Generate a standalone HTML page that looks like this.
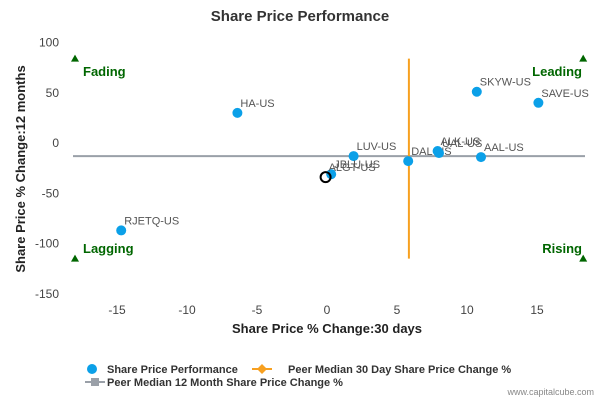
<!DOCTYPE html>
<html><head><meta charset="utf-8"><style>
body{margin:0;background:#fff;font-family:"Liberation Sans",sans-serif}
svg text{font-family:"Liberation Sans",sans-serif}
</style></head><body>
<svg width="600" height="400" viewBox="0 0 600 400">
<text x="300" y="21" text-anchor="middle" font-size="15" fill="#333" font-weight="bold">Share Price Performance</text>
<g id="grid"></g><g id="axes"></g><g id="marks"></g>
<text x="327" y="333" text-anchor="middle" font-size="13" font-weight="bold" fill="#222">Share Price % Change:30 days</text>
<text transform="translate(25,169) rotate(-90)" text-anchor="middle" font-size="13" font-weight="bold" fill="#222">Share Price % Change:12 months</text>
<text x="83" y="76" font-size="13" font-weight="bold" fill="#060">Fading</text>
<text x="582" y="76" text-anchor="end" font-size="13" font-weight="bold" fill="#060">Leading</text>
<text x="83" y="253" font-size="13" font-weight="bold" fill="#060">Lagging</text>
<text x="582" y="253" text-anchor="end" font-size="13" font-weight="bold" fill="#060">Rising</text>
<g font-size="11" font-weight="bold" fill="#333">
<circle cx="92" cy="369" r="5" fill="#0ba0e8"/>
<text x="107" y="373">Share Price Performance</text>
<line x1="252" y1="369" x2="272" y2="369" stroke="#f7a020" stroke-width="2"/>
<path d="M262 364 L267 369 L262 374 L257 369Z" fill="#f7a020"/>
<text x="288" y="373">Peer Median 30 Day Share Price Change %</text>
<line x1="85" y1="382" x2="105" y2="382" stroke="#9aa0a8" stroke-width="2"/>
<rect x="91" y="378" width="8" height="8" fill="#9aa0a8"/>
<text x="107" y="386">Peer Median 12 Month Share Price Change %</text>
</g>
<text x="594" y="395" text-anchor="end" font-size="9" fill="#888">www.capitalcube.com</text>
</svg>
<script>
const xTicks=[-15,-10,-5,0,5,10,15];
const yTicks=[100,50,0,-50,-100,-150];
const names=["HA-US","RJETQ-US","SKYW-US","SAVE-US","LUV-US","DAL-US","ALK-US","UAL-US","AAL-US","JBLU-US","ALGT-US"];
const xVals=[-6.4,-14.7,10.7,15.1,1.9,5.8,7.9,8.0,11.0,0.3,-0.1];
const yVals=[30,-87,51,40,-13,-18,-8,-10,-14,-31,-34];
const highlight="ALGT-US";
const medianX=5.85, medianY=-13;
const X=v=>327+v*14, Y=v=>143-v*1.005;
const ns="http://www.w3.org/2000/svg";
function mk(p,t,a){const e=document.createElementNS(ns,t);for(const k in a)e.setAttribute(k,a[k]);p.appendChild(e);return e;}
const axes=document.getElementById('axes'),marks=document.getElementById('marks');
xTicks.forEach(t=>{const e=mk(axes,'text',{x:X(t),y:314,'text-anchor':'middle','font-size':12,fill:'#444'});e.textContent=t;

});
yTicks.forEach(t=>{const e=mk(axes,'text',{x:59,y:Y(t)+4,'text-anchor':'end','font-size':12,fill:'#444'});e.textContent=t;

});
let l=mk(marks,'line',{x1:73,x2:585,y1:Y(medianY),y2:Y(medianY),stroke:'#9aa0a8','stroke-width':2});


l=mk(marks,'line',{x1:X(medianX),x2:X(medianX),y1:Y(84),y2:Y(-115),stroke:'#f7a020','stroke-width':2});


[[-18,84],[18.3,84],[-18,-115],[18.3,-115]].forEach(([a,b])=>{const x=X(a),y=Y(b);const p=mk(marks,'path',{d:`M${x} ${y-4} L${x+4} ${y+3} L${x-4} ${y+3}Z`,fill:'#060'});

});
names.forEach((n,i)=>{const x=X(xVals[i]),y=Y(yVals[i]);
if(n===highlight){const c=mk(marks,'circle',{cx:x,cy:y,r:5,fill:'none',stroke:'#000','stroke-width':2});

}
else{const c=mk(marks,'circle',{cx:x,cy:y,r:5,fill:'#0ba0e8'});

}
const t=mk(marks,'text',{x:x+3,y:y-6,'font-size':11,fill:'#555'});t.textContent=n;

});
</script>
</body></html>
